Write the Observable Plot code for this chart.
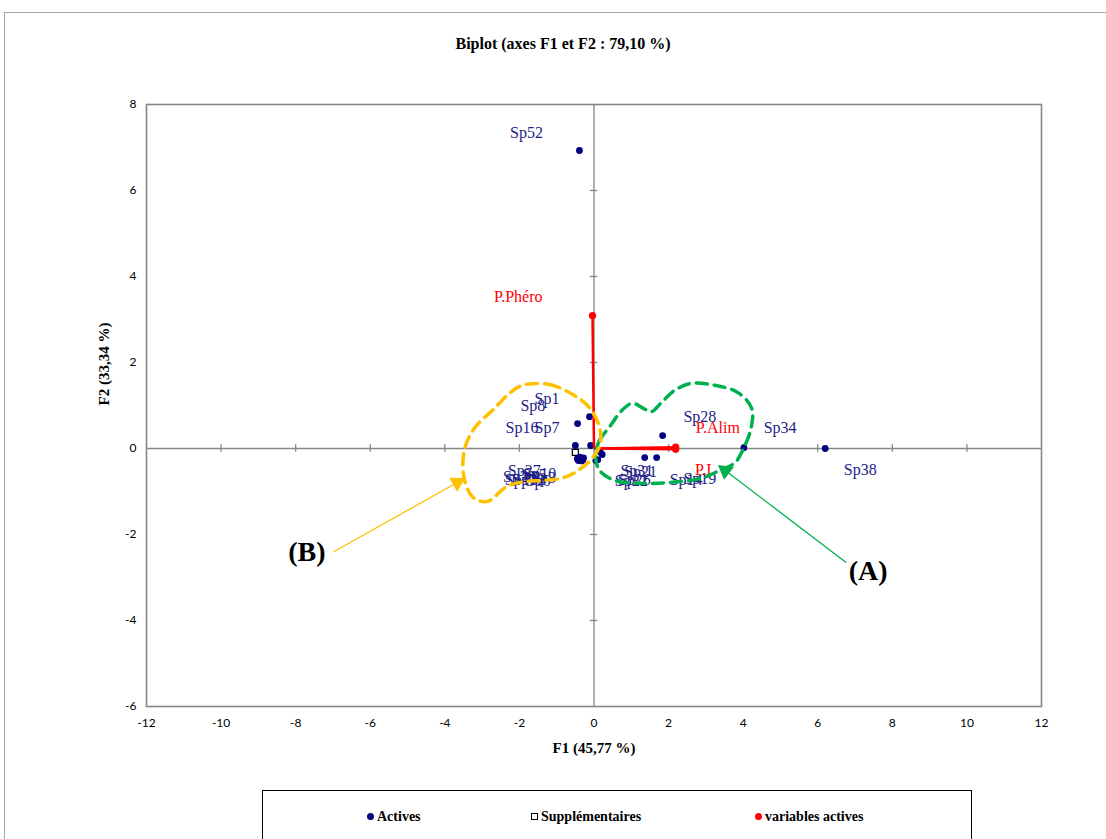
<!DOCTYPE html>
<html><head><meta charset="utf-8">
<script src="https://cdn.jsdelivr.net/npm/d3@7"></script>
<script src="https://cdn.jsdelivr.net/npm/@observablehq/plot@0.6"></script>
<style>
body{margin:0;background:#fff}
#wrap{position:relative;width:1106px;height:839px;overflow:hidden;background:#fff}
#border{position:absolute;left:4px;top:12px;width:1200px;height:900px;border-left:1.5px solid #a6a6a6;border-top:1.5px solid #a6a6a6}
#title{position:absolute;top:35px;left:0;width:1126px;text-align:center;font:bold 16px "Liberation Serif",serif;color:#000}
#chart{position:absolute;left:0;top:70px}
#legend{position:absolute;left:262px;top:790px;width:708px;height:80px;border:1.5px solid #000;font:bold 14px "Liberation Serif",serif;background:#fff}
.li{position:absolute;top:18px;white-space:nowrap;line-height:16px}
.mk{display:inline-block;vertical-align:middle;margin-right:3px;position:relative;top:-1px}
</style></head>
<body>
<div id="wrap">
  <div id="border"></div>
  <div id="title">Biplot (axes F1 et F2 : 79,10 %)</div>
  <div id="chart"></div>
  <div id="legend">
    <span class="li" style="left:104px"><span class="mk" style="width:7px;height:7px;border-radius:50%;background:#000080"></span>Actives</span>
    <span class="li" style="left:268px"><span class="mk" style="width:5px;height:5px;border:1.3px solid #000;background:#fff"></span>Supplémentaires</span>
    <span class="li" style="left:492px"><span class="mk" style="width:7px;height:7px;border-radius:50%;background:#ff0000"></span>variables actives</span>
  </div>
</div>
<script>
// ---- data ----
const xTicks = [-12, -10, -8, -6, -4, -2, 0, 2, 4, 6, 8, 10, 12];
const yTicks = [-6, -4, -2, 0, 2, 4, 6, 8];

// Observations actives
const activeNames = ["Sp52","Sp38","Sp34","Sp28","Sp14","Sp19","Sp31","Sp21","Sp22","Sp26",
                     "Sp1","Sp8","Sp16","Sp7",
                     "Sp27","Sp20","Sp3","Sp5","Sp10","Sp12","Sp13","Sp6"];
const activeF1 = [-0.39, 6.20, 4.02, 1.84, 1.36, 1.68, 0.17, 0.22, 0.10, 0.05,
                  -0.12, -0.44, -0.50, -0.09,
                  -0.45, -0.40, -0.35, -0.30, -0.38, -0.28, -0.42, -0.33];
const activeF2 = [6.93, 0.00, 0.02, 0.30, -0.21, -0.21, -0.09, -0.14, -0.26, -0.28,
                  0.74, 0.58, 0.07, 0.07,
                  -0.24, -0.26, -0.24, -0.27, -0.20, -0.22, -0.28, -0.29];
const activeLabelF1 = [-1.81, 7.14, 4.99, 2.84, 2.47, 2.84, 1.15, 1.25, 1.00, 1.08,
                       -1.26, -1.64, -1.93, -1.26,
                       -1.87, -2.00, -1.35, -1.60, -1.45, -1.75, -1.95, -1.50];
const activeLabelF2 = [7.35, -0.49, 0.49, 0.74, -0.72, -0.70, -0.53, -0.55, -0.75, -0.72,
                       1.16, 0.98, 0.49, 0.47,
                       -0.53, -0.65, -0.68, -0.62, -0.58, -0.72, -0.74, -0.75];

// Observations supplémentaires
const suppF1 = [-0.50];
const suppF2 = [-0.09];

// Variables actives
const varNames = ["P.Phéro", "P.Alim", "P.I"];
const varF1 = [-0.04, 2.19, 2.19];
const varF2 = [3.09, 0.03, -0.02];
const varLabelF1 = [-2.03, 3.32, 2.93];
const varLabelF2 = [3.53, 0.47, -0.49];

// Groupe (A) – contour vert
const groupAF1 = [0.04, 0.15, 0.44, 0.74, 1.03, 1.33, 1.55, 1.81, 2.16, 2.57, 3.24, 3.86, 4.23, 4.21, 4.02, 3.78, 3.37, 2.84, 2.03, 1.22, 0.55, 0.15];
const groupAF2 = [-0.16, 0.19, 0.53, 0.88, 1.05, 0.93, 0.86, 1.07, 1.35, 1.51, 1.47, 1.30, 0.93, 0.47, 0.02, -0.33, -0.51, -0.70, -0.79, -0.81, -0.74, -0.51];
// Groupe (B) – contour jaune
const groupBF1 = [-1.92, -1.20, -0.58, -0.12, 0.15, 0.17, -0.01, -0.39, -0.79, -1.33, -1.87, -2.33, -2.86, -3.24, -3.48, -3.48, -3.21, -2.67, -2.27];
const groupBF2 = [1.47, 1.49, 1.26, 0.95, 0.49, 0.12, -0.19, -0.49, -0.67, -0.74, -0.77, -0.88, -1.23, -1.14, -0.70, -0.05, 0.47, 0.93, 1.28];

// Annotations
const annotText = ["(A)", "(B)"];
const annotF1 = [7.35, -7.70];
const annotF2 = [-2.84, -2.40];
const arrowFromF1 = [6.76, -6.98];
const arrowFromF2 = [-2.65, -2.40];
const arrowToF1 = [3.35, -3.48];
const arrowToF2 = [-0.40, -0.70];
const annotColor = ["#00b050", "#ffc000"];

// ---- build ----
const W = 1106, H = 710, mL = 146, mR = 65, mT = 34, mB = 74;
const xDomain = [-12, 12], yDomain = [-6, 8];
const kx = (W - mL - mR) / (xDomain[1] - xDomain[0]);
const ky = (H - mT - mB) / (yDomain[1] - yDomain[0]);

const actives = activeNames.map((name, i) => ({name, x: activeF1[i], y: activeF2[i], lx: activeLabelF1[i], ly: activeLabelF2[i]}));
const supp = suppF1.map((x, i) => ({x, y: suppF2[i]}));
const vars = varNames.map((name, i) => ({name, x: varF1[i], y: varF2[i], lx: varLabelF1[i], ly: varLabelF2[i]}));
const loopA = groupAF1.map((x, i) => ({x, y: groupAF2[i]}));
const loopB = groupBF1.map((x, i) => ({x, y: groupBF2[i]}));

const headBack = 8;
const arrows = annotText.map((t, i) => {
  const dxp = (arrowToF1[i] - arrowFromF1[i]) * kx;
  const dyp = -(arrowToF2[i] - arrowFromF2[i]) * ky;
  const len = Math.hypot(dxp, dyp);
  const ux = dxp / len, uy = dyp / len;
  const ang = Math.atan2(dyp, dxp) * 180 / Math.PI;
  const hx = arrowToF1[i] - ux * headBack / kx;
  const hy = arrowToF2[i] + uy * headBack / ky;
  return {text: t, tx: annotF1[i], ty: annotF2[i], x1: arrowFromF1[i], y1: arrowFromF2[i], hx, hy, rot: ang + 90, color: annotColor[i]};
});

const tickFont = "Lato, 'Open Sans', sans-serif";
const serif = "'Liberation Serif', 'Times New Roman', serif";
const grey = "#868686";

const plot = Plot.plot({
  width: W, height: H,
  marginLeft: mL, marginRight: mR, marginTop: mT, marginBottom: mB,
  x: {domain: xDomain},
  y: {domain: yDomain},
  style: {background: "transparent"},
  marks: [
    Plot.ruleX([0], {stroke: grey, strokeWidth: 1.3}),
    Plot.ruleY([0], {stroke: grey, strokeWidth: 1.3}),
    Plot.ruleX(xTicks.filter(d => d !== 0 && Math.abs(d) < 12), {x: d => d, y1: -0.09, y2: 0.09, stroke: grey, strokeWidth: 1.3}),
    Plot.ruleY(yTicks.filter(d => d !== 0 && d > -6 && d < 8), {y: d => d, x1: -0.1, x2: 0.1, stroke: grey, strokeWidth: 1.3}),
    Plot.frame({stroke: grey, strokeWidth: 1.6}),
    Plot.axisX(xTicks, {tickSize: 0, tickPadding: 12, fontSize: 12, fontFamily: tickFont, fill: "#000", tickFormat: d => String(d), label: null}),
    Plot.axisY(yTicks, {tickSize: 0, tickPadding: 10, fontSize: 12, fontFamily: tickFont, fill: "#000", tickFormat: d => String(d), label: null}),
    Plot.text(["F1 (45,77 %)"], {frameAnchor: "bottom", dy: 46, fontSize: 15, fontWeight: "bold", fontFamily: serif, fill: "#000"}),
    Plot.text(["F2 (33,34 %)"], {frameAnchor: "left", dx: -42, rotate: -90, fontSize: 15, fontWeight: "bold", fontFamily: serif, fill: "#000"}),
    Plot.dot(supp, {x: "x", y: "y", symbol: "square", r: 3.4, stroke: "#000", strokeWidth: 1.2, fill: "#fff"}),
    Plot.dot(actives, {x: "x", y: "y", r: 3.4, fill: "#000080"}),
    Plot.text(actives, {x: "lx", y: "ly", text: "name", fill: "#1d1d86", fontSize: 16, fontFamily: serif}),
    Plot.link(vars, {x1: () => 0, y1: () => 0, x2: "x", y2: "y", stroke: "#ff0000", strokeWidth: 2.5}),
    Plot.dot(vars, {x: "x", y: "y", r: 3.6, fill: "#ff0000"}),
    Plot.text(vars, {x: "lx", y: "ly", text: "name", fill: "#ff0000", fontSize: 16, fontFamily: serif}),
    Plot.line(loopA, {x: "x", y: "y", curve: "catmull-rom-closed", stroke: "#00b050", strokeWidth: 3.5, strokeDasharray: "11,7"}),
    Plot.line(loopB, {x: "x", y: "y", curve: "catmull-rom-closed", stroke: "#ffc000", strokeWidth: 3.5, strokeDasharray: "11,7"}),
    Plot.link(arrows, {x1: "x1", y1: "y1", x2: "hx", y2: "hy", stroke: "color", strokeWidth: 1.3}),
    Plot.dot(arrows, {x: "hx", y: "hy", symbol: "triangle", r: 6, fill: "color", stroke: "none", rotate: "rot"}),
    Plot.text(arrows, {x: "tx", y: "ty", text: "text", fontSize: 28, fontWeight: "bold", fontFamily: serif, fill: "#000"})
  ]
});
document.getElementById("chart").appendChild(plot);
</script>
</body></html>
